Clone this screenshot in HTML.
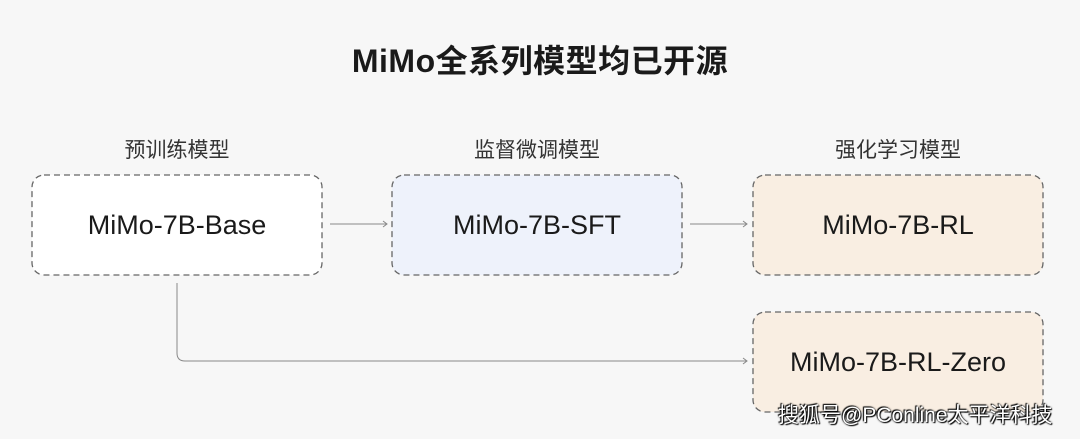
<!DOCTYPE html>
<html><head><meta charset="utf-8"><style>
body{margin:0;width:1080px;height:439px;background:#f7f7f7;position:relative;overflow:hidden;font-family:"Liberation Sans","Noto Sans CJK SC",sans-serif;color:#1a1a1a}
.t{position:absolute;left:0;width:1080px;top:36px;text-align:center;font-size:32px;font-weight:bold;letter-spacing:0.5px}
.l{position:absolute;width:290px;text-align:center;font-size:21px;top:134px;color:#333}
.b{position:absolute;width:290px;height:100px;display:flex;align-items:center;justify-content:center;font-size:27px}
.w{position:absolute;left:778px;top:399px;font-size:21px;color:#fff;text-shadow:0 0 2px #000,1px 1px 1px #000,-1px -1px 1px #000}
</style></head><body>
<svg width="1080" height="439" style="position:absolute;left:0;top:0" fill="none" stroke="#666" stroke-width="1.3" stroke-dasharray="6 4">
<rect x="32" y="175" width="290" height="100" rx="12" fill="#fff"/>
<rect x="392" y="175" width="290" height="100" rx="12" fill="#eef2fb"/>
<rect x="753" y="175" width="290" height="100" rx="12" fill="#f9eee2"/>
<rect x="753" y="312" width="290" height="100" rx="12" fill="#f9eee2"/>
</svg>
<div class="t">MiMo全系列模型均已开源</div>
<div class="l" style="left:32px">预训练模型</div>
<div class="l" style="left:392px">监督微调模型</div>
<div class="l" style="left:753px">强化学习模型</div>
<div class="b" style="left:32px;top:175px">MiMo-7B-Base</div>
<div class="b" style="left:392px;top:175px">MiMo-7B-SFT</div>
<div class="b" style="left:753px;top:175px">MiMo-7B-RL</div>
<div class="b" style="left:753px;top:312px">MiMo-7B-RL-Zero</div>
<svg width="1080" height="439" style="position:absolute;left:0;top:0" fill="none" stroke="#888" stroke-width="1">
<path d="M330 224H387M383 221L387 224L383 227"/>
<path d="M690 224H747M743 221L747 224L743 227"/>
<path d="M177 283V353Q177 361 185 361H747M743 358L747 361L743 364"/>
</svg>
<div class="w">搜狐号@PConline太平洋科技</div>
</body></html>
